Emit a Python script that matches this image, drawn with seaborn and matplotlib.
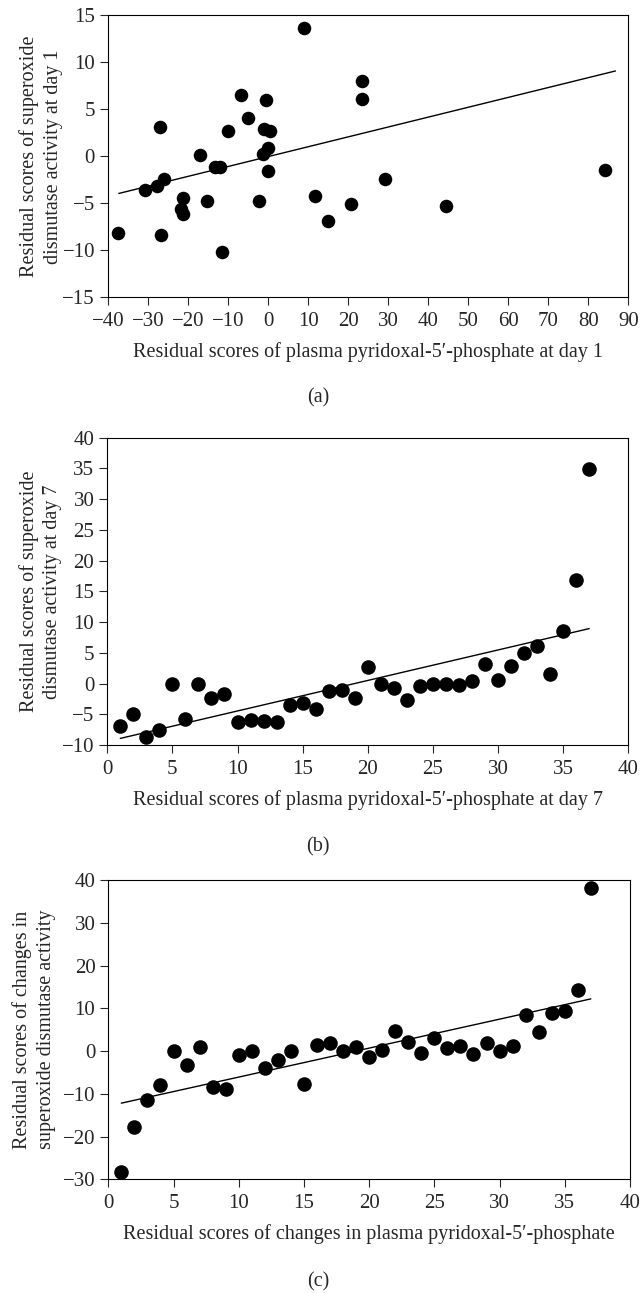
import seaborn as sns
import matplotlib.pyplot as plt
import pandas as pd

# panel (a): residual scores at day 1
day1_plp = [8.9, 23.4, 23.4, -6.7, -0.4, -5.1, -26.9, -9.9, -1.0, 0.5, 0.0,
            -1.3, -17.1, -13.3, -12.1, 0.0, -26.0, -27.8, -30.7, -21.2, -15.3,
            -2.3, -21.8, -21.2, -37.5, -26.7, -11.6, 11.8, 14.9, 20.7, 29.3,
            44.4, 84.3]
day1_sod = [13.6, 8.0, 6.1, 6.5, 6.0, 4.1, 3.1, 2.7, 2.9, 2.7, 0.9,
            0.2, 0.1, -1.1, -1.1, -1.6, -2.4, -3.2, -3.6, -4.4, -4.8,
            -4.8, -5.6, -6.1, -8.2, -8.4, -10.2, -4.2, -6.9, -5.1, -2.4,
            -5.3, -1.5]
# fitted line printed in panel (a) (slope, intercept, x span)
day1_fit = (0.105, -0.04)
day1_fit_span = [-37.3, 86.8]

# panels (b) and (c) share the same x positions
rank_plp = [1, 2, 3, 4, 5, 6, 7, 8, 9, 10, 11, 12, 13, 14, 15, 16, 17, 18, 19,
            20, 21, 22, 23, 24, 25, 26, 27, 28, 29, 30, 31, 32, 33, 34, 35, 36, 37]
day7_sod = [-6.9, -5.0, -8.7, -7.6, 0.0, -5.8, 0.0, -2.4, -1.7, -6.2, -5.9,
            -6.1, -6.2, -3.5, -3.2, -4.2, -1.2, -1.0, -2.4, 2.7, 0.0, -0.7,
            -2.6, -0.4, -0.1, -0.1, -0.2, 0.4, 3.2, 0.5, 2.9, 4.9, 6.1, 1.5,
            8.5, 16.8, 34.9]
change_sod = [-28.2, -17.7, -11.5, -8.0, 0.0, -3.3, 1.0, -8.4, -8.8, -1.0, 0.0,
              -4.0, -2.2, 0.0, -7.6, 1.4, 1.9, 0.0, 1.0, -1.4, 0.3, 4.6,
              2.1, -0.5, 3.1, 0.6, 1.2, -0.8, 1.8, 0.1, 1.2, 8.5, 4.5, 8.8,
              9.4, 14.2, 38.1]

LABEL_FONT = 14.5
TICK_FONT = 15


def residual_plot(ax, x, y, xlim, ylim, xstep, ystep, xlabel, ylabel, size,
                  ylabel_x, fit=None, fit_span=None):
    data = pd.DataFrame({'x': x, 'y': y})
    if fit is None:
        sns.regplot(x='x', y='y', data=data, ax=ax, ci=None, color='black',
                    scatter_kws={'s': size, 'alpha': 1, 'linewidths': 0},
                    line_kws={'linewidth': 1.0})
    else:
        sns.scatterplot(x='x', y='y', data=data, ax=ax, color='black',
                        s=size, linewidth=0)
        line = pd.DataFrame({'x': fit_span})
        line['y'] = fit[0] * line['x'] + fit[1]
        sns.lineplot(x='x', y='y', data=line, ax=ax, color='black',
                     linewidth=1.0)
    ax.set_xlim(*xlim)
    ax.set_ylim(*ylim)
    ax.set_xticks(range(xlim[0], xlim[1] + 1, xstep))
    ax.set_yticks(range(ylim[0], ylim[1] + 1, ystep))
    ax.set_xlabel(xlabel, fontsize=LABEL_FONT, labelpad=8)
    ax.set_ylabel(ylabel, fontsize=LABEL_FONT, linespacing=1.35)
    ax.yaxis.set_label_coords(ylabel_x, 0.5)
    ax.tick_params(length=5.8, width=0.8, labelsize=TICK_FONT, direction='out')
    ax.tick_params(axis='x', pad=5)
    ax.tick_params(axis='y', pad=3.5)
    for s in ax.spines.values():
        s.set_linewidth(0.8)
        s.set_color('black')


if __name__ == "__main__":
    sns.set_style('ticks')
    plt.rcParams['font.family'] = ['Liberation Serif', 'DejaVu Serif']
    plt.rcParams['axes.edgecolor'] = 'black'

    fig = plt.figure(figsize=(6.42, 12.93), dpi=100)
    ax_a = fig.add_axes([0.1682, 0.7701, 0.8104, 0.2181])
    ax_b = fig.add_axes([0.1671, 0.4238, 0.8115, 0.2377])
    ax_c = fig.add_axes([0.1687, 0.0879, 0.8126, 0.2315])

    residual_plot(ax_a, day1_plp, day1_sod, (-40, 90), (-15, 15), 10, 5,
                  "Residual scores of plasma pyridoxal-5\u2032-phosphate at day 1",
                  "Residual scores of superoxide\ndismutase activity at day 1",
                  95, -0.086, fit=day1_fit, fit_span=day1_fit_span)
    residual_plot(ax_b, rank_plp, day7_sod, (0, 40), (-10, 40), 5, 5,
                  "Residual scores of plasma pyridoxal-5\u2032-phosphate at day 7",
                  "Residual scores of superoxide\ndismutase activity at day 7",
                  110, -0.086)
    residual_plot(ax_c, rank_plp, change_sod, (0, 40), (-30, 40), 5, 10,
                  "Residual scores of changes in plasma pyridoxal-5\u2032-phosphate",
                  "Residual scores of changes in\nsuperoxide dismutase activity",
                  110, -0.100)

    for label, ypix in [('(a)', 398), ('(b)', 847), ('(c)', 1282)]:
        fig.text(318 / 642, 1 - ypix / 1293, label, ha='center', va='center',
                 fontsize=LABEL_FONT)

    fig.savefig('out.png', dpi=100, facecolor='white')
